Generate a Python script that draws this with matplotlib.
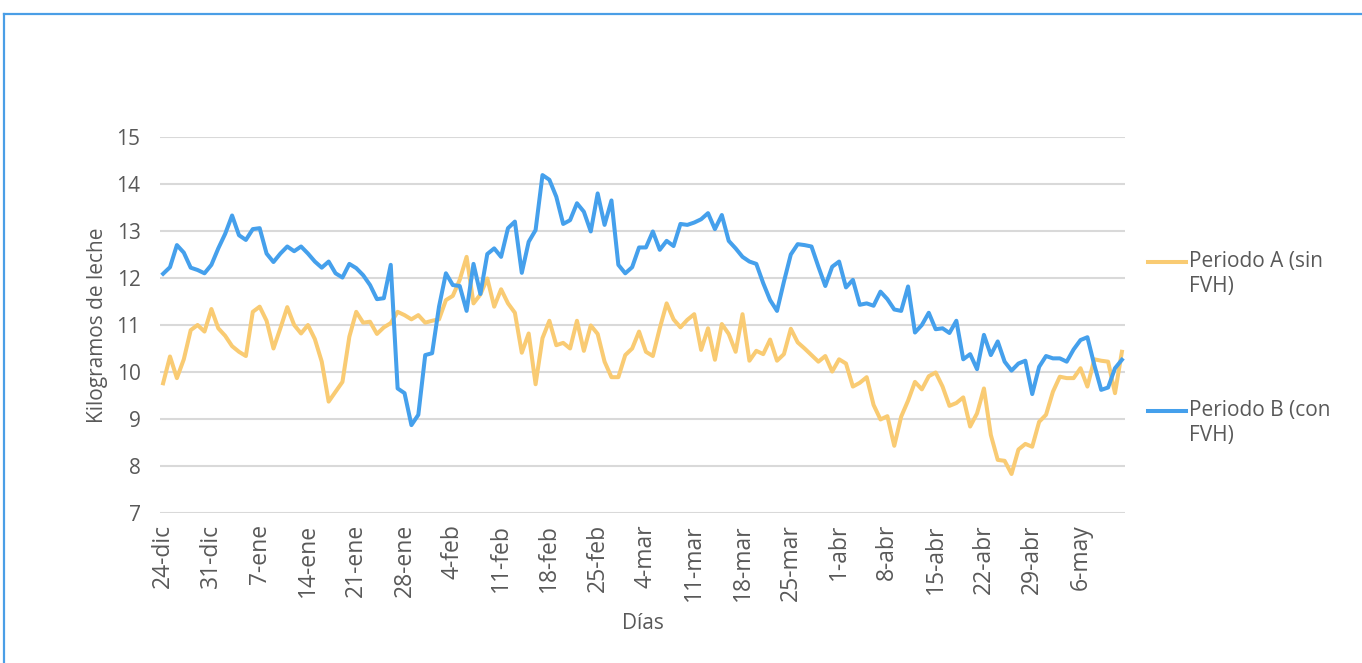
import matplotlib
matplotlib.use("Agg")
import matplotlib.pyplot as plt
from matplotlib.lines import Line2D

plt.rcParams['font.family'] = ['Open Sans', 'DejaVu Sans']

# ---- data ----
tick_labels = ["24-dic", "31-dic", "7-ene", "14-ene", "21-ene", "28-ene", "4-feb",
               "11-feb", "18-feb", "25-feb", "4-mar", "11-mar", "18-mar", "25-mar",
               "1-abr", "8-abr", "15-abr", "22-abr", "29-abr", "6-may"]

periodo_a = [9.76, 10.33, 9.87, 10.27, 10.89, 11.0, 10.86, 11.34, 10.93, 10.77,
             10.55, 10.43, 10.34, 11.28, 11.39, 11.09, 10.50, 10.93, 11.38, 11.0,
             10.82, 11.0, 10.7, 10.22, 9.37, 9.58, 9.79, 10.75, 11.28, 11.05,
             11.07, 10.81, 10.95, 11.04, 11.28, 11.21, 11.12, 11.21, 11.05, 11.09,
             11.12, 11.53, 11.62, 11.96, 12.45, 11.46, 11.65, 11.99, 11.39, 11.76,
             11.46, 11.26, 10.41, 10.82, 9.74, 10.72, 11.09, 10.57, 10.62, 10.50,
             11.09, 10.45, 10.99, 10.81, 10.22, 9.89, 9.89, 10.36, 10.50, 10.86,
             10.43, 10.34, 10.93, 11.46, 11.12, 10.95, 11.11, 11.23, 10.47, 10.93,
             10.26, 11.02, 10.81, 10.43, 11.23, 10.24, 10.45, 10.38, 10.69, 10.24,
             10.38, 10.92, 10.63, 10.50, 10.36, 10.22, 10.34, 10.01, 10.27, 10.18,
             9.69, 9.77, 9.89, 9.30, 8.99, 9.06, 8.43, 9.05, 9.39, 9.79,
             9.63, 9.91, 9.99, 9.69, 9.28, 9.34, 9.46, 8.84, 9.12, 9.65,
             8.66, 8.13, 8.11, 7.83, 8.35, 8.47, 8.41, 8.94, 9.09, 9.58,
             9.90, 9.87, 9.87, 10.08, 9.69, 10.27, 10.24, 10.22, 9.55, 10.43]

periodo_b = [12.09, 12.23, 12.70, 12.54, 12.22, 12.17, 12.10, 12.28, 12.63, 12.94,
             13.33, 12.91, 12.81, 13.04, 13.06, 12.52, 12.34, 12.52, 12.67, 12.57,
             12.67, 12.52, 12.35, 12.22, 12.35, 12.10, 12.01, 12.30, 12.21, 12.06,
             11.85, 11.55, 11.57, 12.28, 9.65, 9.55, 8.87, 9.09, 10.36, 10.40,
             11.39, 12.10, 11.85, 11.83, 11.30, 12.30, 11.66, 12.51, 12.63, 12.45,
             13.06, 13.20, 12.11, 12.77, 13.02, 14.19, 14.09, 13.73, 13.15, 13.23,
             13.59, 13.41, 12.99, 13.80, 13.13, 13.65, 12.28, 12.10, 12.23, 12.65,
             12.65, 12.99, 12.60, 12.79, 12.68, 13.15, 13.13, 13.18, 13.25, 13.38,
             13.04, 13.34, 12.79, 12.63, 12.45, 12.35, 12.30, 11.89, 11.53, 11.30,
             11.92, 12.50, 12.72, 12.70, 12.67, 12.24, 11.83, 12.24, 12.35, 11.80,
             11.96, 11.43, 11.46, 11.41, 11.71, 11.55, 11.33, 11.30, 11.82, 10.84,
             11.00, 11.26, 10.91, 10.93, 10.83, 11.09, 10.27, 10.38, 10.06, 10.79,
             10.36, 10.65, 10.22, 10.03, 10.18, 10.24, 9.53, 10.11, 10.34, 10.29,
             10.29, 10.22, 10.48, 10.68, 10.74, 10.15, 9.62, 9.67, 10.08, 10.26]

series_names = ["Periodo A (sin\nFVH)", "Periodo B (con\nFVH)"]
colors = ["#F9CB73", "#45A0EC"]
text_color = "#595959"
fs = 15

W, H = 1362, 663
fig = plt.figure(figsize=(W / 100, H / 100), dpi=100)
ax = fig.add_axes([160 / W, 1 - 513 / H, (1125 - 160) / W, (513 - 137) / H])

days = list(range(len(periodo_a)))
ax.plot(days, periodo_a, color=colors[0], lw=2.9, solid_joinstyle='round', zorder=3)
ax.plot(days, periodo_b, color=colors[1], lw=2.9, solid_joinstyle='round', zorder=4)

ax.set_xlim(-0.45, len(days) - 0.55)
ax.set_ylim(7, 15)
ax.set_yticks(range(7, 16))
ax.set_xticks(range(0, 7 * len(tick_labels), 7))
ax.set_xticklabels(tick_labels, rotation=90)
ax.grid(axis='y', color='#D9D9D9', lw=1.5)
ax.set_axisbelow(True)
for s in ax.spines.values():
    s.set_visible(False)
ax.tick_params(axis='both', length=0, labelsize=fs, colors=text_color)
ax.tick_params(axis='x', labelsize=16.5, pad=8)
ax.tick_params(axis='y', pad=14)
ax.set_ylabel("Kilogramos de leche", fontsize=fs, color=text_color, labelpad=6)
ax.set_xlabel("Días", fontsize=fs, color=text_color, labelpad=9)

# legend (manual, Excel-like: marker line at first text line)
leg_y = [262, 411]
for name, c, y in zip(series_names, colors, leg_y):
    fig.add_artist(Line2D([1148 / W, 1186 / W], [1 - y / H, 1 - y / H],
                          color=c, lw=2.9, transform=fig.transFigure))
    fig.text(1189 / W, 1 - (y - 11) / H, name, fontsize=fs, color=text_color,
             va='top', ha='left', linespacing=1.28)

# outer frame lines (top and left)
fig.add_artist(Line2D([3.5 / W, 1.0], [1 - 14 / H, 1 - 14 / H], color="#4A9EE6",
                      lw=1.6, transform=fig.transFigure))
fig.add_artist(Line2D([3.5 / W, 3.5 / W], [0, 1 - 14 / H], color="#4A9EE6",
                      lw=1.6, transform=fig.transFigure))

fig.savefig("out.png", dpi=100)
